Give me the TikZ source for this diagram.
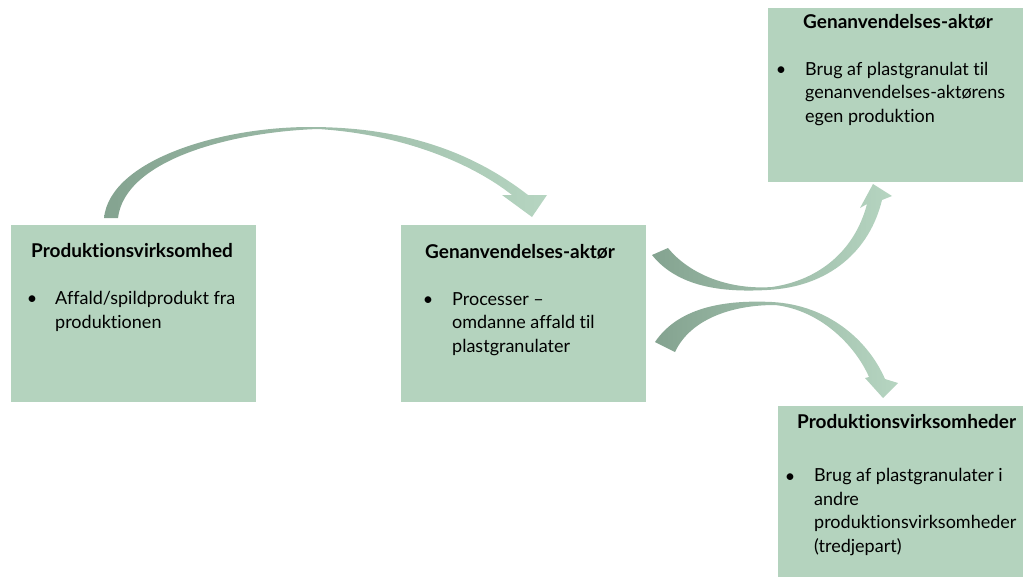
\documentclass[tikz,border=0pt]{standalone}
\usepackage{fontspec}
\setmainfont{Lato}[Ligatures={NoCommon}]
\definecolor{boksgroen}{HTML}{B4D3BE}
\definecolor{pilmoerk}{HTML}{84A390}
\definecolor{pillys}{HTML}{B6D5C1}
\newcommand{\tekst}{\fontsize{18}{23.5}\selectfont}
\newcommand{\overtekst}{\fontsize{19}{23.5}\selectfont\bfseries}
\begin{document}
\begin{tikzpicture}[x=1pt,y=-1pt,
    boks/.style={fill=boksgroen, inner sep=0pt, anchor=north west},
    overskrift/.style={font=\overtekst, anchor=base west, inner sep=0pt},
    punkt/.style={font=\tekst, anchor=base, inner sep=0pt},
    liste/.style={font=\tekst, align=left, anchor=base west, inner sep=0pt},
    pil/.style={left color=pilmoerk, right color=pillys}]% ------ Genanvendelse -----------------
  \useasboundingbox (0,0) rectangle (1023,576);
  \clip (0,0) rectangle (1023,576);
  % kasser
  \node [boks, minimum width=245pt, minimum height=177pt] (prod) at (11,225) {};
  \node [boks, minimum width=245pt, minimum height=177pt] (genan) at (401,225) {};
  \node [boks, minimum width=270pt, minimum height=174pt] (genanegen) at (768,8) {};
  \node [boks, minimum width=260pt, minimum height=190pt] (tredje) at (778,406) {};
  % tekst (liste: base = sidste linje)
  \node [overskrift] (prodtitel) at (31,257) {Produktionsvirksomhed};
  \node [punkt] (prodpunkt) at (32,304) {•};
  \node [liste] (prodtekst) at (55,328) {Affald/spildprodukt fra\\produktionen};
  \node [overskrift] (genantitel) at (425,258) {Genanvendelses-aktør};
  \node [punkt] (genanpunkt) at (428,305) {•};
  \node [liste] (genantekst) at (452,352) {Processer –\\omdanne affald til\\plastgranulater};
  \node [overskrift] (egentitel) at (803,28) {Genanvendelses-aktør};
  \node [punkt] (egenpunkt) at (781,75) {•};
  \node [liste] (egentekst) at (805,122) {Brug af plastgranulat til\\genanvendelses-aktørens\\egen produktion};
  \node [overskrift] (tredjetitel) at (797,428) {Produktionsvirksomheder};
  \node [punkt] (tredjepunkt) at (790,482) {•};
  \node [liste] (tredjetekst) at (814,552) {Brug af plastgranulater i\\andre\\produktionsvirksomheder\\(tredjepart)};
  % pile
  \shade [pil] (104,218) .. controls (110,160) and (220,127) .. (310,127)
     .. controls (400,127) and (470,150) .. (528,195)
     -- (547,195) -- (532,217) -- (502,195) -- (512,195)
     .. controls (470,162) and (400,134) .. (318,129)
     .. controls (230,132) and (125,160) .. (118,218) -- cycle;
  \shade [pil] (652,255) .. controls (680,290) and (730,292) .. (767,290)
     .. controls (830,287) and (870,250) .. (882,200)
     -- (892,196) -- (873,184) -- (860,208) -- (867,204)
     .. controls (855,250) and (820,280) .. (772,287)
     .. controls (730,290) and (690,275) .. (668,248) -- cycle;
  \shade [pil] (655,342) .. controls (680,305) and (730,300) .. (772,302)
     .. controls (828,305) and (868,340) .. (885,379)
     -- (898,383) -- (883,398) -- (865,378) -- (869,377)
     .. controls (855,345) and (820,310) .. (775,305)
     .. controls (730,305) and (690,320) .. (675,352) -- cycle;
\end{tikzpicture}
\end{document}
